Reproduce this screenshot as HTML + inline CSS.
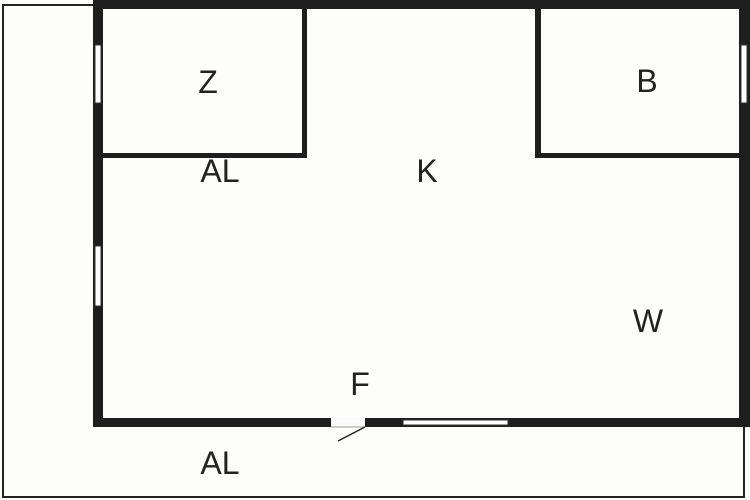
<!DOCTYPE html>
<html><head><style>
body{margin:0;background:#fff}
svg{display:block}
text{font-family:"Liberation Sans",sans-serif;font-size:32px;fill:#222;text-anchor:middle}
</style></head><body>
<svg width="750" height="500" viewBox="0 0 750 500">
<rect width="750" height="500" fill="#fdfdfc"/>
<polyline points="93,5 3,5 3,497 744,497 744,427" fill="none" stroke="#222" stroke-width="2"/>
<rect x="93" y="0" width="657" height="9" fill="#1e1e1e"/>
<rect x="93" y="0" width="10" height="427" fill="#1e1e1e"/>
<rect x="739" y="0" width="11" height="427" fill="#1e1e1e"/>
<rect x="93" y="418" width="657" height="9" fill="#1e1e1e"/>
<rect x="302" y="5" width="5" height="153" fill="#1e1e1e"/>
<rect x="100" y="153" width="207" height="5" fill="#1e1e1e"/>
<rect x="535" y="5" width="6" height="153" fill="#1e1e1e"/>
<rect x="535" y="153" width="210" height="5" fill="#1e1e1e"/>
<rect x="95" y="45" width="6" height="58" fill="#fff" stroke="#333" stroke-width="1"/>
<rect x="95" y="246" width="6" height="60" fill="#fff" stroke="#333" stroke-width="1"/>
<rect x="741" y="45" width="6" height="58" fill="#fff" stroke="#333" stroke-width="1"/>
<rect x="403" y="420" width="105" height="5" fill="#fff" stroke="#333" stroke-width="1"/>
<rect x="331" y="418" width="34" height="9" fill="#fafafa"/>
<line x1="331" y1="427" x2="365" y2="427" stroke="#999" stroke-width="1"/>
<line x1="365" y1="427" x2="338" y2="441" stroke="#222" stroke-width="1.5"/>
<text x="208" y="93">Z</text>
<text x="647" y="92">B</text>
<text x="220" y="182">AL</text>
<text x="427" y="182">K</text>
<text x="648" y="332">W</text>
<text x="360" y="395">F</text>
<text x="220" y="474">AL</text>
</svg>
</body></html>
